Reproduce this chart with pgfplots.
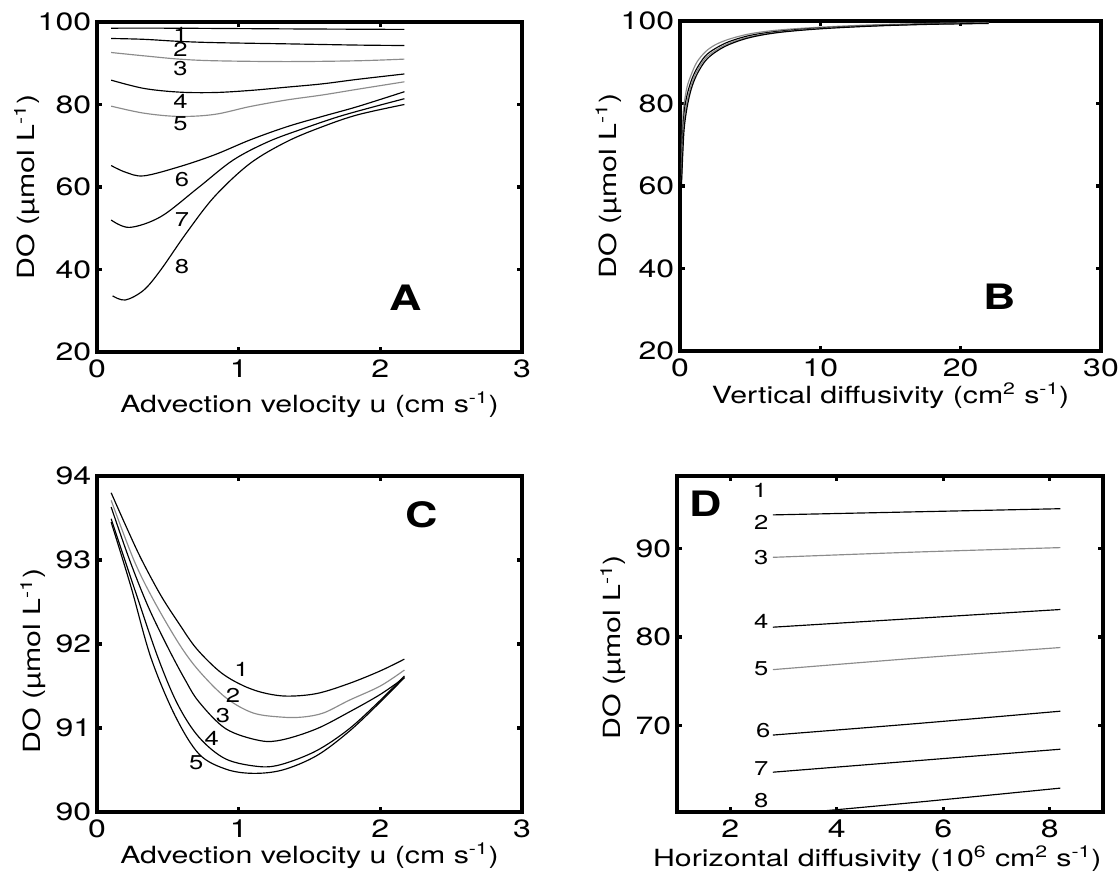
\documentclass[border=0pt]{standalone}
\usepackage{fontspec}
\setmainfont{TeX Gyre Heros}[FakeStretch=1.28]
\usepackage{pgfplots}
\pgfplotsset{compat=1.18}
\pgfplotsset{
 panel/.style={
  scale only axis, anchor=north west,
  axis line style={line width=2.2pt, line cap=rect},
  tick align=inside, major tick length=3pt,
  every tick/.style={black, line width=2pt},
  tick label style={font=\fontsize{15}{17}\selectfont},
  label style={font=\fontsize{14.2}{16}\selectfont},
  /pgf/number format/assume math mode=true,
  xticklabel style={yshift=-1pt},
  xlabel style={anchor=center},
  ylabel style={anchor=center},
 },
 dk/.style={black, line width=0.7pt, mark=none, smooth, tension=0.55},
 gy/.style={black!45, line width=0.7pt, mark=none, smooth, tension=0.55},
}
\tikzset{
 lab/.style={font=\fontsize{12}{14}\selectfont},
 big/.style={font=\fontsize{21}{23}\selectfont\bfseries},
}
\begin{document}
\begin{tikzpicture}
\useasboundingbox (0pt,0pt) rectangle (672pt,524.4pt);
% ---------------- A
\begin{axis}[panel, at={(58.2pt,511.2pt)}, width=255pt, height=198pt,
  xmin=0, xmax=3, ymin=20, ymax=100, xtick={0,1,2,3}, ytick={20,40,60,80,100},
  xlabel={Advection velocity u (cm s\textsuperscript{-1})},
  ylabel={DO (µmol L\textsuperscript{-1})},
  xlabel style={at={(axis description cs:0.5,-0.16)}},
  ylabel style={at={(axis description cs:-0.165,0.5)}}]
\addplot[dk] coordinates {(0.10,98.5) (0.5,98.5) (1.0,98.4) (1.5,98.3) (2.17,98.2)};
\addplot[dk] coordinates {(0.10,96.0) (0.33,95.8) (0.58,95.3) (0.83,95.0) (1.34,94.7) (1.84,94.4) (2.17,94.3)};
\addplot[gy] coordinates {(0.10,92.6) (0.33,91.8) (0.58,91.0) (0.83,90.6) (1.34,90.4) (1.84,90.6) (2.17,91.0)};
\addplot[dk] coordinates {(0.10,85.9) (0.33,83.9) (0.58,83.0) (0.83,82.9) (1.08,83.4) (1.34,84.2) (1.59,85.0) (1.84,86.1) (2.17,87.4)};
\addplot[gy] coordinates {(0.10,79.6) (0.33,77.9) (0.58,77.1) (0.83,77.6) (1.08,79.5) (1.34,81.1) (1.59,82.3) (1.84,83.7) (2.17,85.5)};
\addplot[dk] coordinates {(0.10,65.2) (0.20,63.6) (0.33,62.7) (0.58,64.9) (0.83,67.8) (1.08,71.4) (1.34,74.6) (1.59,77.1) (1.84,79.5) (2.17,83.1)};
\addplot[dk] coordinates {(0.10,52.0) (0.23,50.2) (0.45,52.8) (0.71,59.7) (0.96,66.5) (1.21,71.0) (1.46,74.2) (1.71,77.1) (1.96,79.5) (2.17,81.4)};
\addplot[dk] coordinates {(0.11,33.6) (0.20,32.6) (0.33,35.0) (0.45,39.9) (0.63,48.8) (0.83,57.7) (1.08,65.7) (1.34,71.0) (1.59,74.6) (1.84,77.5) (2.17,80.0)};
\node[lab] at (axis cs:0.59,97.1) {1};
\node[lab] at (axis cs:0.59,93.4) {2};
\node[lab] at (axis cs:0.59,88.8) {3};
\node[lab] at (axis cs:0.59,80.7) {4};
\node[lab] at (axis cs:0.59,75.3) {5};
\node[lab] at (axis cs:0.60,61.7) {6};
\node[lab] at (axis cs:0.60,52.0) {7};
\node[lab] at (axis cs:0.60,40.8) {8};
\node[big] at (axis cs:2.18,33.1) {A};
\end{axis}
% ---------------- B
\begin{axis}[panel, at={(408pt,511.8pt)}, width=252.6pt, height=198pt,
  xmin=0, xmax=30, ymin=20, ymax=100, xtick={0,10,20,30}, ytick={20,40,60,80,100},
  xlabel={Vertical diffusivity (cm\textsuperscript{2} s\textsuperscript{-1})},
  ylabel={DO (µmol L\textsuperscript{-1})},
  xlabel style={at={(axis description cs:0.5,-0.135)}},
  ylabel style={at={(axis description cs:-0.17,0.5)}}]
\addplot[gy] coordinates {(0.1,64) (0.2,76) (0.3,80) (0.5,84) (0.8,87) (1.2,90) (1.8,92.5) (2.5,94.2) (3.5,95.6) (5,96.9) (7,97.8) (10,98.5) (14,99.1) (18,99.4) (22,99.6)};
\addplot[dk] coordinates {(0.1,62) (0.2,72) (0.3,78) (0.5,82) (0.8,85.5) (1.2,88.5) (1.8,91.5) (2.5,93.3) (3.5,95.0) (5,96.5) (7,97.5) (10,98.3) (14,98.9) (18,99.3) (22,99.5)};
\addplot[gy] coordinates {(0.1,61) (0.2,70) (0.3,76) (0.5,80.5) (0.8,84.5) (1.2,87.8) (1.8,90.9) (2.5,92.8) (3.5,94.6) (5,96.2) (7,97.3) (10,98.2) (14,98.85) (18,99.25) (22,99.45)};
\addplot[dk] coordinates {(0.1,60) (0.2,68) (0.3,74) (0.5,79) (0.8,83.5) (1.2,87) (1.8,90.3) (2.5,92.4) (3.5,94.3) (5,96.0) (7,97.2) (10,98.1) (14,98.8) (18,99.2) (22,99.4)};
\node[big] at (axis cs:22.8,33.1) {B};
\end{axis}
% ---------------- C
\begin{axis}[panel, at={(58.2pt,238.8pt)}, width=255pt, height=201.6pt,
  xmin=0, xmax=3, ymin=90, ymax=94, xtick={0,1,2,3}, ytick={90,91,92,93,94},
  xlabel={Advection velocity u (cm s\textsuperscript{-1})},
  ylabel={DO (µmol L\textsuperscript{-1})},
  xlabel style={at={(axis description cs:0.5,-0.13)}},
  ylabel style={at={(axis description cs:-0.15,0.45)}}]
\addplot[dk] coordinates {(0.10,93.80) (0.20,93.42) (0.31,93.02) (0.45,92.58) (0.58,92.24) (0.70,91.95) (0.86,91.68) (1.00,91.53) (1.15,91.43) (1.33,91.38) (1.55,91.41) (1.78,91.53) (2.00,91.68) (2.17,91.82)};
\addplot[gy] coordinates {(0.10,93.71) (0.26,93.00) (0.40,92.52) (0.58,92.00) (0.72,91.68) (0.91,91.36) (1.10,91.18) (1.30,91.13) (1.45,91.13) (1.60,91.18) (1.78,91.33) (2.00,91.50) (2.17,91.69)};
\addplot[dk] coordinates {(0.10,93.63) (0.23,93.00) (0.36,92.45) (0.50,91.96) (0.62,91.58) (0.72,91.31) (0.91,90.99) (1.15,90.85) (1.31,90.86) (1.55,90.99) (1.78,91.19) (2.00,91.40) (2.17,91.60)};
\addplot[dk] coordinates {(0.10,93.49) (0.26,92.68) (0.43,91.84) (0.57,91.28) (0.72,90.89) (0.91,90.63) (1.15,90.54) (1.31,90.57) (1.55,90.73) (1.78,90.99) (2.00,91.33) (2.17,91.62)};
\addplot[dk] coordinates {(0.10,93.45) (0.24,92.68) (0.38,91.84) (0.55,91.15) (0.72,90.69) (0.91,90.51) (1.10,90.46) (1.31,90.50) (1.55,90.67) (1.78,90.96) (2.00,91.31) (2.17,91.60)};
\node[lab] at (axis cs:1.02,91.70) {1};
\node[lab] at (axis cs:0.96,91.39) {2};
\node[lab] at (axis cs:0.89,91.15) {3};
\node[lab] at (axis cs:0.81,90.88) {4};
\node[lab] at (axis cs:0.70,90.59) {5};
\node[big] at (axis cs:2.29,93.54) {C};
\end{axis}
% ---------------- D
\begin{axis}[panel, at={(406.2pt,238.8pt)}, width=255.6pt, height=201.6pt,
  xmin=1, xmax=9, ymin=60.2, ymax=98.2, xtick={2,4,6,8}, ytick={70,80,90},
  xlabel={Horizontal diffusivity (10\textsuperscript{6} cm\textsuperscript{2} s\textsuperscript{-1})},
  ylabel={DO (µmol L\textsuperscript{-1})},
  xlabel style={at={(axis description cs:0.47,-0.14)}},
  ylabel style={at={(axis description cs:-0.15,0.49)}}]
\addplot[dk] coordinates {(2.8,98.6) (5.5,98.8) (8.2,99.0)};
\addplot[dk] coordinates {(2.8,93.8) (5.5,94.15) (8.2,94.5)};
\addplot[gy] coordinates {(2.8,89.0) (5.5,89.6) (8.2,90.1)};
\addplot[dk] coordinates {(2.8,81.1) (5.5,82.1) (8.2,83.1)};
\addplot[gy] coordinates {(2.8,76.3) (5.5,77.6) (8.2,78.8)};
\addplot[dk] coordinates {(2.8,68.9) (5.5,70.2) (8.2,71.6)};
\addplot[dk] coordinates {(2.8,64.7) (5.5,66.0) (8.2,67.3)};
\addplot[dk] coordinates {(2.8,59.8) (5.5,61.3) (8.2,62.9)};
\node[lab] at (axis cs:2.56,96.6) {1};
\node[lab] at (axis cs:2.58,93.0) {2};
\node[lab] at (axis cs:2.58,89.0) {3};
\node[lab] at (axis cs:2.58,81.7) {4};
\node[lab] at (axis cs:2.58,76.4) {5};
\node[lab] at (axis cs:2.62,69.4) {6};
\node[lab] at (axis cs:2.58,65.1) {7};
\node[lab] at (axis cs:2.58,61.5) {8};
\node[big] at (axis cs:1.54,95.1) {D};
\end{axis}
\end{tikzpicture}
\end{document}
